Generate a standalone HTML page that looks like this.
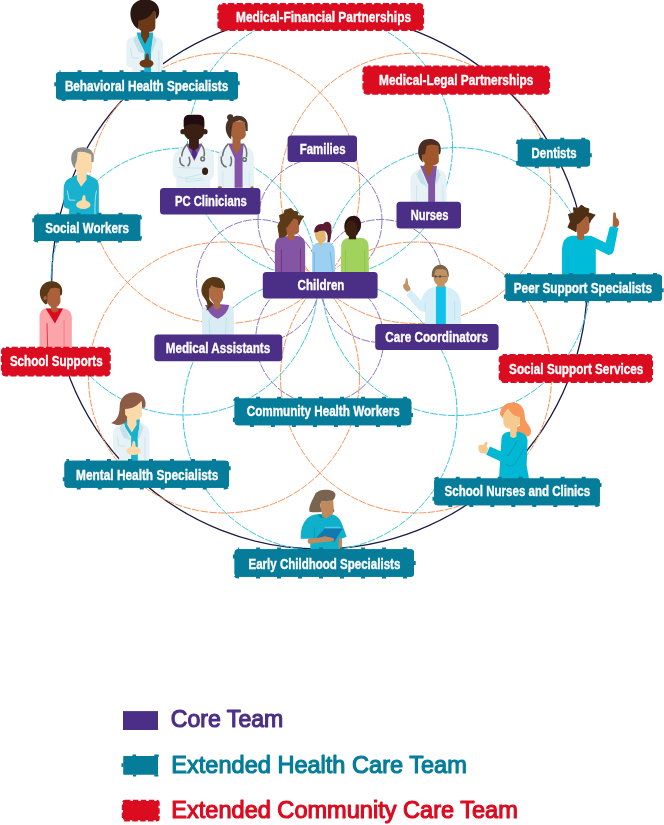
<!DOCTYPE html>
<html><head><meta charset="utf-8"><title>Care Team</title>
<style>
html,body{margin:0;padding:0;background:#fff;}
body{width:664px;height:825px;overflow:hidden;font-family:"Liberation Sans",sans-serif;}
svg{display:block;will-change:transform;}
text{font-family:"Liberation Sans",sans-serif;font-weight:700;}
.lg text{font-weight:400;}
</style></head><body>
<svg width="664" height="825" viewBox="0 0 664 825">
<rect width="664" height="825" fill="#fff"/>
<g id="circles">
<circle cx="319.5" cy="281.1" r="267.8" fill="none" stroke="#1c1b45" stroke-width="1.3"/>
<circle cx="415.5" cy="188.3" r="135.2" fill="none" stroke="#f8955c" stroke-width="1" stroke-dasharray="7.5 1.3"/>
<circle cx="224.5" cy="188.3" r="135.2" fill="none" stroke="#f8955c" stroke-width="1" stroke-dasharray="7.5 1.3"/>
<circle cx="224" cy="377.5" r="135.5" fill="none" stroke="#f8955c" stroke-width="1" stroke-dasharray="7.5 1.3"/>
<circle cx="416" cy="377.5" r="135.5" fill="none" stroke="#f8955c" stroke-width="1" stroke-dasharray="7.5 1.3"/>
<circle cx="320" cy="146" r="132.5" fill="none" stroke="#3cc6de" stroke-width="1" stroke-dasharray="7.5 1.3"/>
<circle cx="320" cy="413.5" r="137" fill="none" stroke="#3cc6de" stroke-width="1" stroke-dasharray="7.5 1.3"/>
<circle cx="184.5" cy="281.5" r="133.5" fill="none" stroke="#3cc6de" stroke-width="1" stroke-dasharray="7.5 1.3"/>
<circle cx="456" cy="281.6" r="134" fill="none" stroke="#3cc6de" stroke-width="1" stroke-dasharray="7.5 1.3"/>
<circle cx="320" cy="220.5" r="62" fill="none" stroke="#8f78bd" stroke-width="1" stroke-dasharray="8.5 1.3"/>
<circle cx="319.7" cy="339.5" r="64" fill="none" stroke="#8f78bd" stroke-width="1" stroke-dasharray="8.5 1.3"/>
<circle cx="258" cy="281" r="61.5" fill="none" stroke="#8f78bd" stroke-width="1" stroke-dasharray="8.5 1.3"/>
<circle cx="381" cy="281" r="61.5" fill="none" stroke="#8f78bd" stroke-width="1" stroke-dasharray="8.5 1.3"/>
</g>
<g id="people">
<!-- P1 Behavioral Health -->
<g transform="translate(110,0) scale(0.12048)">
<path d="M185,610 L185,562 L155,556 Q135,550 135,520 L135,365 Q138,325 175,312 L232,288 L350,288 L402,312 Q440,328 440,372 L440,610 Z" fill="#e6f2f6"/>
<path d="M222,270 L357,270 L357,330 L340,425 L340,610 L285,610 L285,425 L235,330 Z" fill="#18b1cf"/>
<path d="M222,292 L192,328 L238,432 L292,445 Z" fill="#c6e1e8"/>
<path d="M357,292 L388,332 L352,432 L338,442 Z" fill="#c6e1e8"/>
<path d="M258,235 L325,235 L325,300 L290,365 L258,300 Z" fill="#6b3916"/>
<path d="M232,168 L360,92 L378,98 L376,232 Q362,262 338,263 L282,266 Q240,256 234,225 Z" fill="#6b3916"/>
<path d="M290,-5 C372,-5 412,48 408,102 C407,132 394,152 379,160 L376,100 L360,92 C338,140 290,165 234,172 L236,242 C196,222 164,160 170,100 C176,38 222,-5 290,-5 Z" fill="#2b1712"/>
<ellipse cx="303" cy="527" rx="58" ry="34" fill="#6b3916"/>
<path d="M288,505 L298,452 Q309,438 320,452 L326,505 Z" fill="#6b3916"/>
<path d="M170,400 L185,480 L245,485" fill="none" stroke="#c6e1e8" stroke-width="7"/>
<path d="M405,420 L405,610" fill="none" stroke="#c6e1e8" stroke-width="7"/>
</g>
<!-- P2 Social worker -->
<g transform="translate(45,140) scale(0.12048)">
<path d="M200,625 L200,572 L176,566 Q153,560 153,530 L155,400 Q158,340 200,320 L265,290 L345,285 L410,315 Q447,335 447,390 L447,625 Z" fill="#18b2d0"/>
<path d="M185,420 L200,498 L252,500" fill="none" stroke="#c4ebf3" stroke-width="7"/>
<path d="M428,420 Q412,480 415,625" fill="none" stroke="#c4ebf3" stroke-width="7"/>
<path d="M265,250 L345,250 L345,330 L300,388 L265,330 Z" fill="#fbd9a8"/>
<path d="M243,180 L262,108 Q320,80 386,108 L390,232 Q380,268 340,273 L300,273 Q255,262 245,225 Z" fill="#fbd9a8"/>
<path d="M240,228 C212,190 208,120 240,88 C272,52 352,50 386,90 C406,115 409,150 402,182 L386,182 L384,120 Q330,88 272,100 L262,180 Q250,190 249,232 Z" fill="#8d8d8d"/>
<ellipse cx="318" cy="537" rx="60" ry="36" fill="#fbd9a8"/>
<path d="M303,510 L314,462 Q324,450 334,464 L340,510 Z" fill="#fbd9a8"/>
</g>
<!-- P3 PC Clinicians -->
<g transform="translate(165,108) scale(0.1506)">
<!-- left -->
<path d="M75,530 L75,470 Q50,455 50,420 L55,330 Q60,285 110,265 L150,245 L235,245 L280,265 Q325,285 325,330 L325,440 Q320,470 300,475 L300,530 Z" fill="#e6f2f6"/>
<path d="M85,395 L245,400 Q258,420 245,440 L140,462 M80,452 Q140,482 250,466 M140,462 L140,490 L260,478" fill="none" stroke="#bfe3ea" stroke-width="5"/>
<path d="M138,238 L247,238 L195,352 Z" fill="#7c4fa6"/>
<path d="M180,283 L206,283 L213,310 L195,342 L177,310 Z" fill="#4c2a8c"/>
<path d="M160,195 L225,195 L225,262 L192,286 L160,262 Z" fill="#3a2012"/>
<path d="M126,90 L126,165 Q130,200 165,211 L192,215 L220,211 Q256,200 260,165 L260,90 Z" fill="#3a2012"/>
<circle cx="120" cy="157" r="18" fill="#3a2012"/><circle cx="265" cy="157" r="18" fill="#3a2012"/>
<path d="M124,128 L124,82 Q124,44 165,44 L220,44 Q261,44 261,82 L261,128 Q250,108 192,106 Q135,108 124,128 Z" fill="#210d0f"/>
<ellipse cx="266" cy="420" rx="20" ry="25" fill="#3a2012"/>
<path d="M150,238 Q113,272 111,322 M100,328 Q93,380 130,386 M158,324 Q176,365 150,386 M236,238 Q268,272 260,322" fill="none" stroke="#6e6e6e" stroke-width="10"/>
<circle cx="250" cy="338" r="12" fill="#e6f2f6" stroke="#6e6e6e" stroke-width="10"/>
<!-- right -->
<path d="M350,530 L350,330 Q352,285 395,265 L435,245 L520,245 L555,262 Q590,280 590,330 L590,530 Z" fill="#e6f2f6"/>
<path d="M418,235 L522,235 L515,332 L515,530 L462,530 L462,332 Z" fill="#8553a8"/>
<path d="M448,190 L502,190 L502,268 L474,304 L448,268 Z" fill="#a8623a"/>
<path d="M428,150 L450,88 L530,88 L537,180 Q531,207 495,212 Q446,206 432,175 Z" fill="#a8623a"/>
<path d="M440,208 C398,180 393,110 420,80 C404,60 414,38 436,41 C452,42 456,55 451,62 C490,38 546,58 549,110 L549,152 L535,152 L530,94 Q490,70 450,100 L440,160 Z" fill="#4a3226"/>
<path d="M420,238 Q385,272 382,322 M374,322 Q368,386 410,391 M436,322 Q450,362 430,387 M520,238 Q549,272 541,326" fill="none" stroke="#6e6e6e" stroke-width="10"/>
<circle cx="528" cy="342" r="12" fill="#e6f2f6" stroke="#6e6e6e" stroke-width="10"/>
<path d="M385,420 L385,530 M560,420 L560,530" fill="none" stroke="#c9e6ec" stroke-width="5"/>
<ellipse cx="364" cy="528" rx="14" ry="9" fill="#a8623a"/><ellipse cx="578" cy="528" rx="10" ry="9" fill="#a8623a"/>
</g>
<!-- P4 Nurse -->
<g transform="translate(395,130) scale(0.10542)">
<path d="M150,690 L145,470 Q150,400 215,380 L250,365 L390,365 L430,380 Q490,400 490,470 L490,690 Z" fill="#e6f2f6"/>
<path d="M238,340 L398,340 L380,520 L380,690 L315,690 L315,520 Z" fill="#8254a6"/>
<path d="M238,365 L203,422 L240,500 L312,545 Z" fill="#c4e2e8"/>
<path d="M398,365 L432,425 L400,500 L384,525 Z" fill="#c4e2e8"/>
<path d="M285,300 L350,300 L366,350 L320,458 L274,350 Z" fill="#a0572c"/>
<path d="M258,215 L296,140 L412,130 L416,300 Q396,336 355,336 L300,322 Q260,300 258,260 Z" fill="#a0572c"/>
<path d="M266,308 C214,270 204,170 245,120 C290,68 400,78 426,140 C441,180 433,215 426,232 L413,226 L410,150 Q350,130 300,150 L285,225 L258,236 L262,290 Z" fill="#4a2e22"/>
<path d="M205,520 L205,690 M455,520 L455,690" fill="none" stroke="#c4e2e8" stroke-width="7"/>
</g>
<!-- P5 Peer support -->
<g transform="translate(550,200) scale(0.12048)">
<path d="M100,625 L100,400 Q105,310 180,297 L340,297 L462,355 L495,225 Q530,208 567,235 L530,420 Q520,457 485,456 L380,405 L380,625 Z" fill="#00bcd8"/>
<path d="M150,410 L150,625" fill="none" stroke="#0aa6c2" stroke-width="6"/>
<path d="M215,185 L300,125 L330,135 L326,250 Q312,285 282,286 L283,322 Q255,346 227,322 L225,272 Q214,240 215,185 Z" fill="#a9603b"/>
<path d="M216,262 L150,226 L170,180 L154,120 L200,106 L195,64 L235,70 L260,44 L290,65 L322,75 L316,105 L372,125 L336,170 L330,188 L325,140 L300,128 L240,190 L218,196 Z" fill="#4f2f14" stroke="#4f2f14" stroke-width="9" stroke-linejoin="round"/>
<path d="M520,218 L525,110 Q535,93 546,110 L551,150 Q576,160 573,200 Q566,226 545,227 Z" fill="#a9603b"/>
</g>
<!-- P6 Care coordinator -->
<g transform="translate(395,255) scale(0.12048)">
<path d="M250,575 L250,470 L207,466 L93,332 L130,288 L216,376 Q240,300 290,275 L340,262 L425,262 L480,285 Q548,320 548,420 L548,575 Z" fill="#d6eef8"/>
<rect x="340" y="262" width="82" height="313" fill="#10c1ea"/>
<path d="M495,380 L495,540" fill="none" stroke="#b5dfea" stroke-width="6"/>
<path d="M250,400 L250,470" fill="none" stroke="#b5dfea" stroke-width="6"/>
<path d="M320,150 L330,105 L432,108 L441,200 Q431,235 411,241 L416,266 L350,266 L350,246 Q322,226 320,190 Z" fill="#c19360"/>
<path d="M307,185 C297,120 330,83 375,80 C421,80 452,120 447,185 L436,172 L428,128 Q380,108 338,122 L322,180 Z" fill="#7a6248"/>
<path d="M322,178 L436,178" fill="none" stroke="#5a5048" stroke-width="5"/>
<circle cx="337" cy="178" r="10" fill="#5a5048"/><circle cx="374" cy="178" r="10" fill="#5a5048"/>
<path d="M90,198 Q96,184 104,198 L110,246 Q130,262 129,290 L100,304 Q70,286 67,256 Q67,238 84,236 Z" fill="#c19360"/>
</g>
<!-- P7 Children -->
<g transform="translate(265,200) scale(0.17319)">
<path d="M57,420 L57,260 Q60,215 105,210 L190,208 Q232,215 232,260 L232,420 Z" fill="#8455a4"/>
<path d="M95,285 L95,420 M205,280 L205,420" fill="none" stroke="#8b1a6b" stroke-width="4"/>
<path d="M120,160 L165,100 L196,110 L196,185 Q186,201 170,201 L170,226 Q150,241 130,223 L130,200 Q115,185 120,160 Z" fill="#a9603b"/>
<path d="M85,215 L75,150 L90,120 L85,90 L110,80 L115,60 L150,50 L165,65 L190,70 L185,90 L222,95 L205,120 L196,142 L193,112 L165,102 L130,150 L118,162 L125,200 L105,213 Z" fill="#5c3a17" stroke="#5c3a17" stroke-width="7" stroke-linejoin="round"/>
<path d="M272,420 L272,285 Q275,250 310,245 L365,245 Q400,250 403,290 L405,420 Z" fill="#9dcff0"/>
<path d="M284,300 L284,420 M376,300 L392,420" fill="none" stroke="#5aa8e0" stroke-width="4"/>
<path d="M288,185 L345,175 L353,225 Q346,246 330,246 L330,259 Q320,266 310,259 L308,241 Q290,226 288,200 Z" fill="#e0b66f"/>
<path d="M284,187 C284,150 310,134 335,140 C345,119 376,119 383,150 C386,190 379,226 373,246 L360,241 Q366,200 353,186 L345,178 Q320,175 300,186 Z" fill="#5a1a32"/>
<path d="M438,420 L440,260 Q445,225 480,220 L560,220 Q595,225 598,265 L600,420 Z" fill="#a1d25e"/>
<path d="M465,290 L465,420 M575,290 L575,420" fill="none" stroke="#86c043" stroke-width="4"/>
<rect x="484" y="195" width="42" height="32" fill="#3b2010"/>
<ellipse cx="502" cy="158" rx="44" ry="58" fill="#3b2010"/>
<path d="M459,150 C459,108 490,90 516,91 C547,94 560,125 553,160 C549,176 541,186 535,186 L530,150 Q520,120 490,118 Q468,125 465,160 Z" fill="#2a1112"/>
</g>
<!-- P8 School supports -->
<g transform="translate(20,272) scale(0.12048)">
<path d="M162,640 L162,370 Q165,310 215,302 L360,300 Q425,310 430,370 L430,640 Z" fill="#fba4a9"/>
<path d="M213,303 L357,303 L290,427 Z" fill="#dc0a1e"/>
<path d="M224,425 L230,640" fill="none" stroke="#dc0a1e" stroke-width="6"/>
<path d="M366,400 L366,640" fill="none" stroke="#ee6e78" stroke-width="6"/>
<path d="M225,180 L240,120 L332,120 L336,250 Q321,286 300,291 L318,300 L318,320 Q290,352 258,320 L258,290 Q225,270 225,230 Z" fill="#a9603b"/>
<path d="M212,270 C164,232 148,160 185,113 C220,63 320,63 346,130 C356,160 349,186 341,197 L332,190 L330,138 Q290,124 252,136 L228,185 L228,262 Z" fill="#5a3715"/><ellipse cx="208" cy="217" rx="13" ry="17" fill="#a9603b"/>
</g>
<!-- P9 Medical assistant -->
<g transform="translate(180,268) scale(0.10542)">
<path d="M210,640 L208,420 Q212,375 250,362 L470,355 Q510,375 510,420 L510,640 Z" fill="#d9ecf4"/>
<path d="M275,480 L285,640 M440,470 L432,640" fill="none" stroke="#a8dce0" stroke-width="6"/>
<path d="M238,350 L315,343 L395,343 L467,352 Q452,442 360,482 Q280,452 238,350 Z" fill="#8254a6"/>
<path d="M278,190 L300,165 L405,190 L409,280 Q396,321 378,331 L386,376 Q350,407 319,379 L322,336 Q280,300 278,250 Z" fill="#b06a42"/>
<path d="M250,402 C281,340 240,300 214,260 C184,200 220,98 310,86 C391,78 437,140 426,200 L413,227 L408,190 Q340,190 300,165 L278,200 L280,300 Q300,330 321,341 L265,397 Z" fill="#5a3715"/>
</g>
<!-- P10 Mental health -->
<g transform="translate(95,385) scale(0.12048)">
<path d="M200,630 L200,576 Q150,570 150,530 L150,400 Q155,340 210,325 L250,300 L365,300 L405,325 Q450,345 452,400 L452,630 Z" fill="#e6f2f6"/>
<path d="M233,285 L372,285 L366,360 L355,430 L355,630 L300,630 L300,430 L250,350 Z" fill="#18b1cf"/>
<path d="M232,310 L203,360 L240,440 L297,458 Z" fill="#c6e1e8"/>
<path d="M372,310 L402,355 L370,440 L354,452 Z" fill="#c6e1e8"/>
<path d="M268,250 L340,250 L346,330 L305,394 L267,330 Z" fill="#fbd9a8"/>
<path d="M248,200 L280,190 L380,125 L391,240 Q386,286 340,291 L290,286 Q250,265 248,230 Z" fill="#fbd9a8"/>
<path d="M133,316 C190,290 205,240 205,170 C210,98 270,53 335,63 C401,73 432,130 416,186 L392,191 L385,130 C350,175 310,195 250,199 L250,245 L268,266 L262,300 Q230,336 180,331 Z" fill="#8b5b45"/>
<ellipse cx="320" cy="546" rx="61" ry="36" fill="#fbd9a8"/>
<path d="M304,518 L312,470 Q322,458 333,472 L339,518 Z" fill="#fbd9a8"/>
<path d="M185,430 L198,505 L255,508" fill="none" stroke="#c6e1e8" stroke-width="7"/>
<path d="M415,430 L415,630" fill="none" stroke="#c6e1e8" stroke-width="7"/>
</g>
<!-- P11 Early childhood -->
<g transform="translate(285,482) scale(0.12048)">
<path d="M210,575 L210,470 L130,470 Q125,360 185,300 Q230,265 290,265 L400,270 Q450,290 470,340 L512,455 L470,472 L470,575 Z" fill="#10b0cc"/>
<path d="M268,272 Q310,322 362,288 L362,270 Z" fill="#0a8ea8"/>
<path d="M243,375 L243,468" fill="none" stroke="#0a8ea8" stroke-width="5"/>
<rect x="445" y="468" width="28" height="107" fill="#c08a5c"/>
<path d="M292,165 L400,150 L406,240 Q396,276 365,281 L365,291 Q335,311 310,286 L305,250 Q290,220 292,165 Z" fill="#c08a5c"/>
<path d="M203,246 C193,200 235,140 250,100 C280,48 422,53 419,110 C416,136 400,151 390,153 L300,163 L290,190 L306,246 Q250,256 203,246 Z" fill="#7a6450"/>
<path d="M398,222 L412,240 L400,248 Z" fill="#7a6450"/>
<path d="M330,372 L450,372 L477,386 L330,386 Z" fill="#3fd0e8"/>
<path d="M330,385 L477,385 L410,496 L260,463 Z" fill="#1478b0"/>
<path d="M190,480 Q184,511 205,513 L300,501 L400,491 Q416,476 400,465 L330,450 L290,460 L195,472 Z" fill="#c08a5c"/>
</g>
<!-- P12 School nurse -->
<g transform="translate(470,398) scale(0.12048)">
<path d="M250,140 C245,70 310,30 370,38 C430,45 455,100 455,160 C460,210 507,230 507,280 C507,312 480,327 450,316 L385,300 L385,240 L415,230 L415,160 C370,160 335,130 318,90 C290,110 275,150 275,170 Z" fill="#f8975a"/>
<path d="M240,680 L262,330 Q270,290 320,280 L400,280 Q470,290 478,350 L470,560 L492,680 Z" fill="#00b8d4"/>
<path d="M135,472 L165,403 L332,478 L302,548 Z" fill="#00b8d4"/>
<path d="M395,350 L320,478 L300,470 M455,410 L375,545 Q355,576 320,561 L290,546" fill="none" stroke="#0a8ba8" stroke-width="5"/>
<path d="M275,170 C275,140 295,110 318,90 C335,130 370,160 415,160 L415,216 L386,241 L386,320 Q360,342 334,320 L334,256 Q290,250 278,215 Z" fill="#f6c98e"/>
<path d="M70,400 Q80,384 110,390 L130,364 Q146,358 146,375 L138,400 L151,420 L136,464 L90,456 Q64,440 70,400 Z" fill="#f6c98e"/>
</g>

</g>
<g id="labels" font-size="14px">
<rect x="218.5" y="4.2" width="204.5" height="25.6" rx="4" fill="#db0b20" stroke="#db0b20" stroke-width="2.2" stroke-dasharray="6.2 2.4" stroke-dashoffset="3"/><text x="236" y="22" textLength="175.0" lengthAdjust="spacingAndGlyphs" fill="#fff" stroke="#fff" stroke-width="0.35">Medical-Financial Partnerships</text>
<rect x="363.5" y="66.6" width="185.5" height="27.1" rx="4" fill="#db0b20" stroke="#db0b20" stroke-width="2.2" stroke-dasharray="6.2 2.4" stroke-dashoffset="3"/><text x="379" y="85" textLength="154.3" lengthAdjust="spacingAndGlyphs" fill="#fff" stroke="#fff" stroke-width="0.35">Medical-Legal Partnerships</text>
<rect x="56.0" y="72.0" width="182.0" height="27.4" rx="3.5" fill="#057c99" stroke="#057c99" stroke-width="3.4" stroke-dasharray="4 17" stroke-dashoffset="3"/><rect x="56.0" y="72.0" width="182.0" height="27.4" rx="3.5" fill="#057c99"/><text x="64.9" y="90.8" textLength="163.3" lengthAdjust="spacingAndGlyphs" fill="#fff" stroke="#fff" stroke-width="0.35">Behavioral Health Specialists</text>
<rect x="517.8" y="139.4" width="72.3" height="27.2" rx="3.5" fill="#057c99" stroke="#057c99" stroke-width="3.4" stroke-dasharray="4 17" stroke-dashoffset="3"/><rect x="517.8" y="139.4" width="72.3" height="27.2" rx="3.5" fill="#057c99"/><text x="531.6" y="157.8" textLength="45.0" lengthAdjust="spacingAndGlyphs" fill="#fff" stroke="#fff" stroke-width="0.35">Dentists</text>
<rect x="287.6" y="135.5" width="69.4" height="26.5" rx="3.5" fill="#4b2e85"/><text x="299.8" y="154" textLength="45.7" lengthAdjust="spacingAndGlyphs" fill="#fff" stroke="#fff" stroke-width="0.35">Families</text>
<rect x="160" y="188" width="100.4" height="26.4" rx="3.5" fill="#4b2e85"/><text x="174.9" y="206.3" textLength="71.9" lengthAdjust="spacingAndGlyphs" fill="#fff" stroke="#fff" stroke-width="0.35">PC Clinicians</text>
<rect x="396.5" y="201.8" width="64.5" height="26.6" rx="3.5" fill="#4b2e85"/><text x="410.7" y="220.2" textLength="37.7" lengthAdjust="spacingAndGlyphs" fill="#fff" stroke="#fff" stroke-width="0.35">Nurses</text>
<rect x="34.0" y="214.4" width="106.2" height="26.5" rx="3.5" fill="#057c99" stroke="#057c99" stroke-width="3.4" stroke-dasharray="4 17" stroke-dashoffset="3"/><rect x="34.0" y="214.4" width="106.2" height="26.5" rx="3.5" fill="#057c99"/><text x="45.3" y="232.9" textLength="83.6" lengthAdjust="spacingAndGlyphs" fill="#fff" stroke="#fff" stroke-width="0.35">Social Workers</text>
<rect x="262.8" y="272" width="114.8" height="26.4" rx="3.5" fill="#4b2e85"/><text x="297.6" y="289.9" textLength="46.8" lengthAdjust="spacingAndGlyphs" fill="#fff" stroke="#fff" stroke-width="0.35">Children</text>
<rect x="505.6" y="274.6" width="156.4" height="26.3" rx="3.5" fill="#057c99" stroke="#057c99" stroke-width="3.4" stroke-dasharray="4 17" stroke-dashoffset="3"/><rect x="505.6" y="274.6" width="156.4" height="26.3" rx="3.5" fill="#057c99"/><text x="513.8" y="292.6" textLength="138.2" lengthAdjust="spacingAndGlyphs" fill="#fff" stroke="#fff" stroke-width="0.35">Peer Support Specialists</text>
<rect x="154.3" y="334.6" width="128.0" height="26.6" rx="3.5" fill="#4b2e85"/><text x="165.8" y="353" textLength="104.4" lengthAdjust="spacingAndGlyphs" fill="#fff" stroke="#fff" stroke-width="0.35">Medical Assistants</text>
<rect x="375.2" y="324" width="123.4" height="26.0" rx="3.5" fill="#4b2e85"/><text x="385.3" y="342" textLength="102.6" lengthAdjust="spacingAndGlyphs" fill="#fff" stroke="#fff" stroke-width="0.35">Care Coordinators</text>
<rect x="2.0" y="347.9" width="107.7" height="27.5" rx="4" fill="#db0b20" stroke="#db0b20" stroke-width="2.2" stroke-dasharray="6.2 2.4" stroke-dashoffset="3"/><text x="9.9" y="365.8" textLength="92.7" lengthAdjust="spacingAndGlyphs" fill="#fff" stroke="#fff" stroke-width="0.35">School Supports</text>
<rect x="499.8" y="355.0" width="152.2" height="26.8" rx="4" fill="#db0b20" stroke="#db0b20" stroke-width="2.2" stroke-dasharray="6.2 2.4" stroke-dashoffset="3"/><text x="509.1" y="374.4" textLength="134.2" lengthAdjust="spacingAndGlyphs" fill="#fff" stroke="#fff" stroke-width="0.35">Social Support Services</text>
<rect x="234.6" y="398.5" width="176.7" height="26.7" rx="3.5" fill="#057c99" stroke="#057c99" stroke-width="3.4" stroke-dasharray="4 17" stroke-dashoffset="3"/><rect x="234.6" y="398.5" width="176.7" height="26.7" rx="3.5" fill="#057c99"/><text x="246.7" y="416.2" textLength="153.0" lengthAdjust="spacingAndGlyphs" fill="#fff" stroke="#fff" stroke-width="0.35">Community Health Workers</text>
<rect x="64.5" y="460.7" width="164.5" height="27.0" rx="3.5" fill="#057c99" stroke="#057c99" stroke-width="3.4" stroke-dasharray="4 17" stroke-dashoffset="3"/><rect x="64.5" y="460.7" width="164.5" height="27.0" rx="3.5" fill="#057c99"/><text x="76.1" y="479.5" textLength="142.2" lengthAdjust="spacingAndGlyphs" fill="#fff" stroke="#fff" stroke-width="0.35">Mental Health Specialists</text>
<rect x="434.2" y="478.5" width="165.6" height="26.7" rx="3.5" fill="#057c99" stroke="#057c99" stroke-width="3.4" stroke-dasharray="4 17" stroke-dashoffset="3"/><rect x="434.2" y="478.5" width="165.6" height="26.7" rx="3.5" fill="#057c99"/><text x="444.6" y="496.2" textLength="145.5" lengthAdjust="spacingAndGlyphs" fill="#fff" stroke="#fff" stroke-width="0.35">School Nurses and Clinics</text>
<rect x="234.6" y="549.3" width="179.4" height="27.4" rx="3.5" fill="#057c99" stroke="#057c99" stroke-width="3.4" stroke-dasharray="4 17" stroke-dashoffset="3"/><rect x="234.6" y="549.3" width="179.4" height="27.4" rx="3.5" fill="#057c99"/><text x="248.5" y="568.7" textLength="151.8" lengthAdjust="spacingAndGlyphs" fill="#fff" stroke="#fff" stroke-width="0.35">Early Childhood Specialists</text>
</g>
<g id="legend">
<rect x="123" y="711.1" width="35" height="18.9" fill="#4b2e85"/>
<rect x="123.2" y="756" width="34.8" height="18.8" rx="0.8" fill="#057c99"/>
<path d="M132.5,756.5V754.6h3.6V756.5Z M154.2,756.5V754.6h4.6V757Z M133,774.5v1.9h3.2v-1.9Z M154.2,774.5v1.9h4.2v-1.9Z M123.5,763.3h-2v3.6h2Z" fill="#057c99"/>
<rect x="123" y="801" width="35.5" height="19.2" rx="2" fill="#db0b20" stroke="#db0b20" stroke-width="2.4" stroke-dasharray="5.5 2.4"/>
<g font-size="24.2px" class="lg" stroke-width="1.15" stroke-linejoin="round"><text x="170.8" y="727.2" textLength="112.5" lengthAdjust="spacingAndGlyphs" fill="#4b2e85" stroke="#4b2e85">Core Team</text><text x="171.3" y="773" textLength="295.5" lengthAdjust="spacingAndGlyphs" fill="#057c99" stroke="#057c99">Extended Health Care Team</text><text x="171.3" y="818.4" textLength="346.5" lengthAdjust="spacingAndGlyphs" fill="#db0b20" stroke="#db0b20">Extended Community Care Team</text></g>
</g>
</svg>
</body></html>
